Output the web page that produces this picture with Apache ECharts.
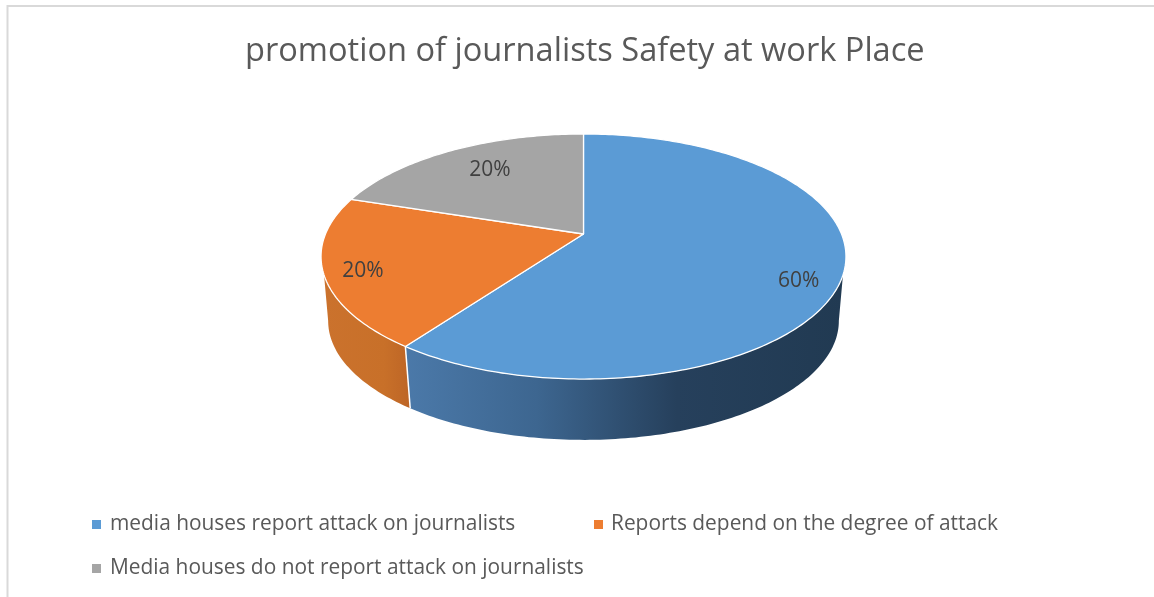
<!DOCTYPE html>
<html>
<head>
<meta charset="utf-8">
<style>
  html, body { margin: 0; padding: 0; background: #fff; }
  #chart { width: 1154px; height: 597px; }
</style>
<script src="https://cdn.jsdelivr.net/npm/echarts@6/dist/echarts.min.js"></script>
</head>
<body>
<div id="chart"></div>
<script>
// Chart data
const chartTitle = 'promotion of journalists Safety at work Place';
const categories = [
  'media houses report attack on journalists',
  'Reports depend on the degree of attack',
  'Media houses do not report attack on journalists'
];
const shares = [60, 20, 20];

// Slice styling
const topColors = ['#5b9bd5', '#ed7d31', '#a5a5a5'];
const wallStops = [
  [[0, '#4b79a9'], [0.3, '#3d6690'], [0.62, '#26405c'], [1, '#213a52']],
  [[0, '#cb722d'], [0.7, '#c87029'], [1, '#bd6526']],
  [[0, '#8a8a8a'], [1, '#8a8a8a']]
];
// Where each percentage sits: fraction of the radius, then a small vertical nudge
const labelRadius = [0.835, 0.855, 0.68];
const labelNudge = [15, 4, -5];

// Perspective disc: apex of the top face, plane scales and the foreshortening factor
const view = {
  cx: 583.5,
  topY: 234, topAx: 258, topAy: 118.4,
  baseY: 299, baseAx: 251, baseAy: 115,
  k: 0.1837
};
// Angular ranges of the rim that face the viewer, on the top plane and on the base plane
const topFront = [109 * Math.PI / 180, 251 * Math.PI / 180];
const baseFront = [Math.PI - Math.acos(view.k), Math.PI + Math.acos(view.k)];

function project(theta, r, y0, ax, ay) {
  const X = Math.sin(theta) * r;
  const Y = -Math.cos(theta) * r;
  const w = 1 - view.k * Y;
  return [view.cx + ax * X / w, y0 + ay * Y / w];
}
const onTop = (t, r = 1) => project(t, r, view.topY, view.topAx, view.topAy);
const onBase = (t, r = 1) => project(t, r, view.baseY, view.baseAx, view.baseAy);

function arc(a, b, fn) {
  const n = Math.max(2, Math.ceil((b - a) * 60));
  const pts = [];
  for (let i = 0; i <= n; i++) pts.push(fn(a + (b - a) * i / n));
  return pts;
}

const total = shares.reduce((s, v) => s + v, 0);

function renderSlice(index) {
  return function (params, api) {
    const value = api.value(0);
    const before = shares.slice(0, index).reduce((s, v) => s + v, 0);
    const a = before / total * Math.PI * 2;
    const b = (before + value) / total * Math.PI * 2;
    const mid = (a + b) / 2;
    const children = [];

    const ta = Math.max(a, topFront[0]);
    const tb = Math.min(b, topFront[1]);
    const ba = Math.max(a, baseFront[0]);
    const bb = Math.min(b, baseFront[1]);
    if (tb > ta && bb > ba) {
      const upper = arc(ta, tb, onTop);
      const lower = arc(ba, bb, onBase);
      const xs = upper.concat(lower).map(p => p[0]);
      children.push({
        type: 'polygon',
        z2: 1,
        shape: { points: upper.concat(lower.reverse()) },
        style: {
          fill: {
            type: 'linear', global: true,
            x: Math.min(...xs), y: 0, x2: Math.max(...xs), y2: 0,
            colorStops: wallStops[index].map(s => ({ offset: s[0], color: s[1] }))
          },
          lineWidth: 0
        }
      });
      // Seam between neighbouring walls
      if (a > baseFront[0] && a < baseFront[1]) {
        children.push({
          type: 'line', z2: 2,
          shape: { x1: onTop(a)[0], y1: onTop(a)[1], x2: onBase(a)[0], y2: onBase(a)[1] },
          style: { stroke: '#ffffff', lineWidth: 1.5 }
        });
      }
    }

    children.push({
      type: 'polygon',
      z2: 3,
      shape: { points: [[view.cx, view.topY]].concat(arc(a, b, onTop)) },
      style: { fill: topColors[index], stroke: '#ffffff', lineWidth: 1.3, lineJoin: 'round' }
    });

    const at = onTop(mid, labelRadius[index]);
    children.push({
      type: 'text',
      z2: 4,
      style: {
        x: at[0], y: at[1] + labelNudge[index],
        text: Math.round(value / total * 100) + '%',
        fill: '#404040',
        font: '21px "Open Sans"',
        align: 'center', verticalAlign: 'middle'
      }
    });
    return { type: 'group', children };
  };
}

// Legend entries sit on two rows, so each one gets its own legend component
const legendSpots = [[87, 509, 4], [589, 509, 3], [87, 553, 4]];

const option = {
  backgroundColor: '#ffffff',
  animation: false,
  color: topColors,
  title: {
    text: chartTitle,
    left: 240, top: 30,
    textStyle: { color: '#595959', fontSize: 32.6, fontWeight: 'normal', fontFamily: 'Open Sans' }
  },
  legend: categories.map((name, i) => ({
    data: [name],
    left: legendSpots[i][0], top: legendSpots[i][1],
    icon: 'rect', itemWidth: 9, itemHeight: 9, itemGap: 0,
    textStyle: {
      color: '#595959', fontSize: 20.9, fontFamily: 'Open Sans',
      padding: [0, 0, 0, legendSpots[i][2]]
    },
    selectedMode: false
  })),
  graphic: [
    { type: 'line', shape: { x1: 7.5, y1: 5, x2: 7.5, y2: 597 }, style: { stroke: '#d9d9d9', lineWidth: 2 } },
    { type: 'line', shape: { x1: 7, y1: 6, x2: 1154, y2: 6 }, style: { stroke: '#d9d9d9', lineWidth: 2 } }
  ],
  series: categories.map((name, i) => ({
    type: 'custom',
    name,
    coordinateSystem: 'none',
    data: [[shares[i]]],
    renderItem: renderSlice(i),
    itemStyle: { color: topColors[i] }
  }))
};

echarts.init(document.getElementById('chart'), null, { renderer: 'canvas' }).setOption(option);
</script>
</body>
</html>
